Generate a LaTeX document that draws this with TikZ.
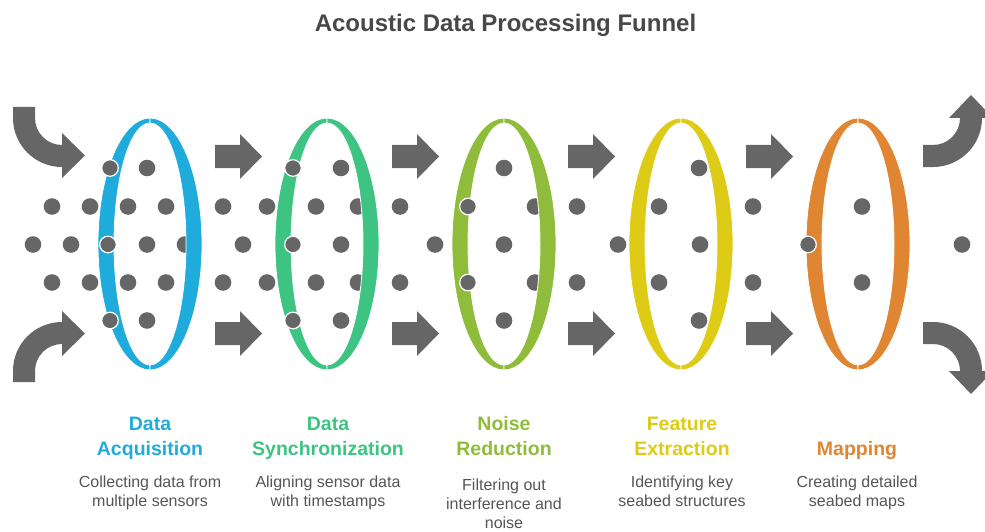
\documentclass[tikz,border=0pt]{standalone}
\usepackage{fontspec}
\setmainfont{Liberation Sans}
\definecolor{dotgray}{HTML}{666666}
\definecolor{titlegray}{HTML}{484848}
\definecolor{descgray}{HTML}{555555}
\definecolor{ringblue}{HTML}{1FABDB}
\definecolor{ringgreen}{HTML}{3DC482}
\definecolor{ringlime}{HTML}{8FBD3B}
\definecolor{ringyellow}{HTML}{DECB16}
\definecolor{ringorange}{HTML}{E08632}
\tikzset{
  backdot/.style={fill=dotgray},
  frontdot/.style={fill=dotgray, draw=white, line width=1.2pt},
  % multi-line nodes sit on the baseline of their last line
  steptitle/.style={font=\fontsize{19.5}{25}\selectfont\bfseries, anchor=base, align=center, inner sep=0pt},
  stepdesc/.style={font=\fontsize{16}{19}\selectfont, text=descgray, anchor=base, align=center, inner sep=0pt},
  pics/blockarrow/.style={code={
    \fill[dotgray] (0,-11.5) -- (25,-11.5) -- (25,-22.5) -- (47,0) -- (25,22.5) -- (25,11.5) -- (0,11.5) -- cycle;
  }},
  pics/ring/.style={code={
    % left crescent
    \path[pic actions, draw=white, line width=0.8pt]
      (0,-126) arc[start angle=270, end angle=90, x radius=52, y radius=126]
      -- (0,121) arc[start angle=90, end angle=270, x radius=36, y radius=121] -- cycle;
    % right crescent
    \path[pic actions, draw=white, line width=0.8pt]
      (0,-126) arc[start angle=-90, end angle=90, x radius=52, y radius=126]
      -- (0,121) arc[start angle=90, end angle=-90, x radius=36, y radius=121] -- cycle;
  }}
}
\begin{document}
\begin{tikzpicture}[x=1pt,y=-1pt]
\useasboundingbox (0,0) rectangle (985,532);

% title
\node[font=\fontsize{24}{28}\selectfont\bfseries, text=titlegray, anchor=base, inner sep=0pt]
  (title) at (505.5,32) {Acoustic Data Processing Funnel};

% dots lying behind the rings
\foreach \x in {147,341,504,699} {
  \fill[backdot] (\x,168) circle[radius=8.3];
  \fill[backdot] (\x,320.5) circle[radius=8.3];
}
\foreach \x in {52,90,128,166,223,267,316,358,400,535,577,659,753,862} {
  \fill[backdot] (\x,206.5) circle[radius=8.3];
  \fill[backdot] (\x,282.5) circle[radius=8.3];
}
\foreach \x in {33,71,147,185,243,341,435,504,618,700,962}
  \fill[backdot] (\x,244.5) circle[radius=8.3];

% rings
\pic[fill=ringblue]   at (150,244) {ring};
\pic[fill=ringgreen]  at (327,244) {ring};
\pic[fill=ringlime]   at (504,244) {ring};
\pic[fill=ringyellow] at (681,244) {ring};
\pic[fill=ringorange] at (858,244) {ring};

% dots passing in front of the rings
\foreach \x in {110,293} {
  \filldraw[frontdot] (\x,168) circle[radius=8.3];
  \filldraw[frontdot] (\x,320.5) circle[radius=8.3];
}
\filldraw[frontdot] (468,206.5) circle[radius=8.3];
\filldraw[frontdot] (468,282.5) circle[radius=8.3];
\foreach \x in {108,293,808}
  \filldraw[frontdot] (\x,244.5) circle[radius=8.3];

% straight arrows between the rings
\foreach \x in {215,392,568,746} {
  \pic at (\x,156.5) {blockarrow};
  \pic at (\x,333.5) {blockarrow};
}

% curved inflow arrows
\fill[dotgray] (13,107) -- (35,107) -- (35,118) arc[start angle=180, end angle=90, radius=27]
  -- (62,133) -- (85,155.5) -- (62,178) -- (62,167) arc[start angle=90, end angle=180, radius=49] -- cycle;
\fill[dotgray] (13,382) -- (35,382) -- (35,371) arc[start angle=180, end angle=270, radius=27]
  -- (62,356) -- (85,333.5) -- (62,311) -- (62,322) arc[start angle=270, end angle=180, radius=49] -- cycle;

% curved outflow arrows
\fill[dotgray] (923,145) -- (933,145) arc[start angle=90, end angle=0, radius=27]
  -- (949,118) -- (971,95) -- (993,118) -- (982,118) arc[start angle=0, end angle=90, radius=49]
  -- (923,167) -- cycle;
\fill[dotgray] (923,344) -- (933,344) arc[start angle=270, end angle=360, radius=27]
  -- (949,371) -- (971,394) -- (993,371) -- (982,371) arc[start angle=0, end angle=-90, radius=49]
  -- (923,322) -- cycle;

% step titles
\node[steptitle, text=ringblue]   (t1) at (150,455) {Data\\Acquisition};
\node[steptitle, text=ringgreen]  (t2) at (328,455) {Data\\Synchronization};
\node[steptitle, text=ringlime]   (t3) at (504,455) {Noise\\Reduction};
\node[steptitle, text=ringyellow] (t4) at (682,455) {Feature\\Extraction};
\node[steptitle, text=ringorange] (t5) at (857,455) {Mapping};

% step descriptions
\node[stepdesc] (d1) at (150,506.5) {Collecting data from\\multiple sensors};
\node[stepdesc] (d2) at (328,506.5) {Aligning sensor data\\with timestamps};
\node[stepdesc] (d3) at (504,528.5) {Filtering out\\interference and\\noise};
\node[stepdesc] (d4) at (682,506.5) {Identifying key\\seabed structures};
\node[stepdesc] (d5) at (857,506.5) {Creating detailed\\seabed maps};
\end{tikzpicture}
\end{document}
